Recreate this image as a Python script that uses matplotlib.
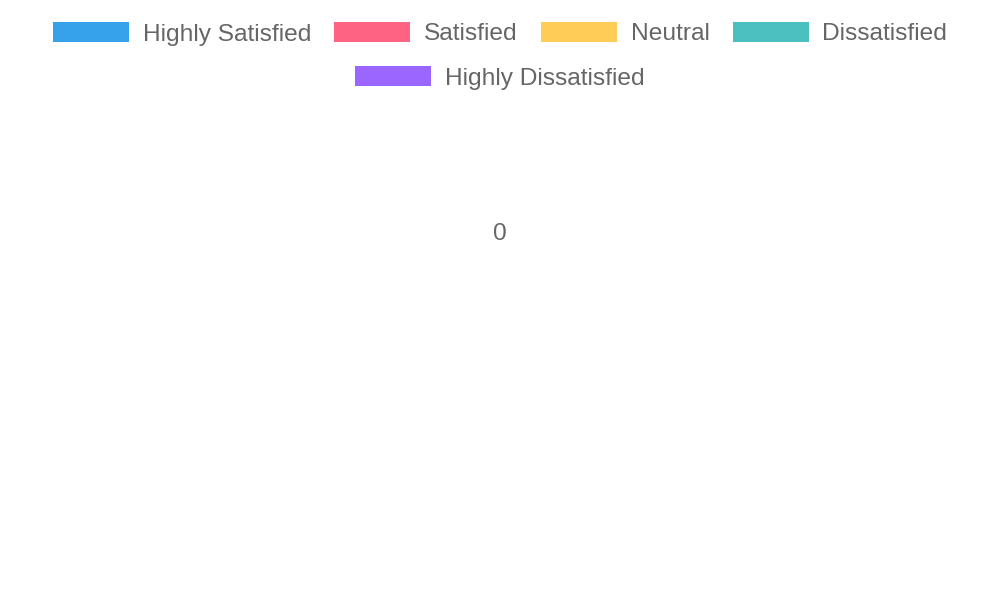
import matplotlib
matplotlib.use("Agg")
import matplotlib.pyplot as plt
from matplotlib.patches import Rectangle

# satisfaction survey - every answer count is zero
labels = ["Highly Satisfied", "Satisfied", "Neutral", "Dissatisfied", "Highly Dissatisfied"]
counts = [0, 0, 0, 0, 0]
colors = ["#36A2EB", "#FF6384", "#FFCD56", "#4BC0C0", "#9966FF"]

W, H = 1000, 600
fig = plt.figure(figsize=(W / 100, H / 100), dpi=100)
fig.patch.set_facecolor("white")

font = dict(family=["Liberation Sans", "DejaVu Sans"], size=24.5 * 72 / 100, color="#666666")
box_w, box_h = 76, 20
gap_text = 14
gap_item = 23
row_h = 44
top = 32

# measure label widths first, then flow them into centred rows like the chart legend
renderer = fig.canvas.get_renderer()
widths = []
for lab in labels:
    t = fig.text(0, 0, lab, **font)
    widths.append(t.get_window_extent(renderer).width)
    t.remove()

rows = [[]]
cur = 0
for i, w in enumerate(widths):
    item = box_w + gap_text + w
    add = item if not rows[-1] else gap_item + item
    if rows[-1] and cur + add > W - 40:
        rows.append([i])
        cur = item
    else:
        rows[-1].append(i)
        cur += add

for r, row in enumerate(rows):
    total = sum(box_w + gap_text + widths[i] for i in row) + gap_item * (len(row) - 1)
    x = (W - total) / 2
    yc = top + r * row_h
    for i in row:
        fig.patches.append(Rectangle((x / W, 1 - (yc + box_h / 2) / H), box_w / W, box_h / H,
                                     transform=fig.transFigure, facecolor=colors[i], edgecolor="none"))
        fig.text((x + box_w + gap_text) / W, 1 - yc / H, labels[i], ha="left", va="center_baseline", **font)
        x += box_w + gap_text + widths[i] + gap_item

# total in the middle of the (empty) doughnut
ax = fig.add_axes([0, 0, 1, 1])
ax.set_xlim(0, W)
ax.set_ylim(H, 0)
ax.axis("off")
ax.text(W / 2, 232, str(sum(counts)), ha="center", va="center_baseline", **font)

fig.savefig("out.png", dpi=100)
